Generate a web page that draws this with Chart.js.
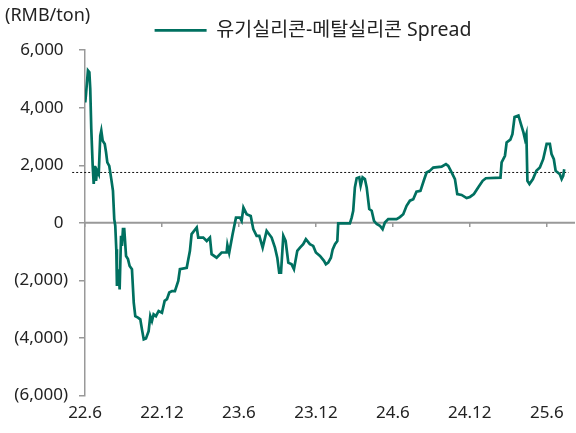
<!DOCTYPE html>
<html>
<head>
<meta charset="utf-8">
<script src="https://cdn.jsdelivr.net/npm/chart.js@4"></script>
<style>
  html, body { margin: 0; padding: 0; background: #fff; }
  #wrap { width: 576px; height: 433px; }
</style>
</head>
<body>
<div id="wrap"><canvas id="spreadChart"></canvas></div>
<script>
// months after 2022-06 (22.6 = 0)
months = [0.02, 0.08, 0.23, 0.34, 0.41, 0.49, 0.60, 0.68, 0.76, 0.86, 0.94, 1.07, 1.19, 1.27, 1.38, 1.54, 1.64, 1.74, 1.89, 2.05,
  2.18, 2.28, 2.36, 2.44, 2.49, 2.63, 2.70, 2.81, 2.88, 2.96, 3.06, 3.20, 3.35, 3.48, 3.66, 3.80, 3.92, 4.13, 4.31, 4.44,
  4.58, 4.75, 4.96, 5.09, 5.22, 5.35, 5.53, 5.74, 6.00, 6.21, 6.39, 6.57, 6.78, 7.01, 7.27, 7.40, 7.93, 8.18, 8.31, 8.71,
  8.83, 9.22, 9.49, 9.74, 9.87, 10.26, 10.65, 11.04, 11.10, 11.24, 11.51, 11.77, 12.08, 12.21, 12.35, 12.60, 12.92, 13.12, 13.38, 13.59,
  13.85, 14.16, 14.55, 14.81, 14.99, 15.14, 15.28, 15.46, 15.64, 15.85, 16.11, 16.29, 16.55, 16.76, 17.01, 17.22, 17.53, 17.79, 18.00, 18.32,
  18.63, 18.78, 18.96, 19.17, 19.31, 19.49, 19.67, 19.74, 20.65, 20.79, 20.91, 21.04, 21.18, 21.38, 21.49, 21.64, 21.82, 21.96, 22.16, 22.35,
  22.53, 22.74, 22.99, 23.20, 23.38, 23.64, 24.29, 24.55, 24.81, 25.07, 25.33, 25.59, 25.84, 26.15, 26.42, 26.63, 26.89, 27.15, 27.80, 28.14,
  28.32, 28.58, 28.84, 29.02, 29.36, 29.75, 30.01, 30.32, 30.65, 31.00, 31.25, 32.39, 32.48, 32.74, 32.87, 33.16, 33.32, 33.49, 33.79, 33.98,
  34.18, 34.30, 34.41, 34.49, 34.65, 34.92, 35.19, 35.46, 35.72, 35.99, 36.24, 36.37, 36.55, 36.69, 37.02, 37.16, 37.28, 37.36];

spread = [4180, 4480, 5290, 5230, 4650, 3260, 1980, 1350, 1980, 1460, 1810, 1690, 3030, 3200, 2850, 2740, 2450, 2100, 1980, 1520,
  1110, 130, -100, -920, -2190, -1610, -2310, -450, -800, -220, -220, -1150, -1260, -1500, -1610, -2770, -3240, -3290, -3350, -3700,
  -4050, -4020, -3760, -3240, -3410, -3180, -3240, -3060, -3120, -2710, -2650, -2420, -2370, -2370, -2020, -1610, -1560, -970, -390, -160,
  -510, -510, -630, -510, -1090, -1210, -1030, -1030, -770, -1040, -390, 180, 180, 70, 530, 300, 240, -220, -450, -450,
  -860, -280, -510, -860, -1210, -1730, -1730, -450, -630, -1380, -1440, -1610, -970, -860, -740, -570, -740, -800, -1030, -1150,
  -1320, -1440, -1380, -1210, -920, -740, -630, -20, -20, 180, 420, 1230, 1550, 1580, 1290, 1580, 1520, 1230, 480, 420,
  70, -40, -100, -220, 10, 130, 130, 200, 300, 590, 770, 820, 1080, 1110, 1480, 1750, 1810, 1920, 1950, 2040,
  1980, 1750, 1520, 1000, 970, 860, 900, 1000, 1230, 1460, 1550, 1570, 2100, 2330, 2790, 2890, 3080, 3680, 3730, 3440,
  3140, 2910, 3080, 1460, 1350, 1520, 1810, 1920, 2210, 2740, 2740, 2390, 2210, 1810, 1690, 1520, 1630, 1860];

avgLevel = 1750;
avgFrom = -1;
avgTo = 37.7;

tickMonths = [0, 6, 12, 18, 24, 30, 36];
tickLabels = ['22.6', '22.12', '23.6', '23.12', '24.6', '24.12', '25.6'];
xMax = 38.2;

seriesName = '유기실리콘-메탈실리콘 Spread';
lineColor = '#007060';
axisColor = '#999999';

Chart.defaults.font.family = "'Noto Sans', 'Noto Sans CJK KR', sans-serif";
Chart.defaults.font.size = 17;
Chart.defaults.color = '#222';

function setTicks(scale){
  scale.ticks = tickMonths.map(v => ({value: v}));
}

function fmt(v){
  if(v < 0){
    return '(' + Math.abs(v).toLocaleString('en-US') + ')';
  }
  return v.toLocaleString('en-US') + ' ';
}

const legendShift = {
  id: 'legendShift',
  afterLayout(chart){
    chart.legend.left += 23;
    chart.legend.right += 23;
  }
};

new Chart(document.getElementById('spreadChart'), {
  type: 'line',
  data: {
    datasets: [{
      label: seriesName,
      data: months.map((m, i) => ({x: m, y: spread[i]})),
      borderColor: lineColor,
      backgroundColor: lineColor,
      borderWidth: 2.7,
      pointRadius: 0,
      tension: 0,
      order: 0
    }, {
      label: 'avg',
      data: [{x: avgFrom, y: avgLevel}, {x: avgTo, y: avgLevel}],
      borderColor: '#111',
      borderWidth: 1,
      borderDash: [2, 2],
      pointRadius: 0,
      clip: false,
      order: 1
    }, {
      // zero axis line
      label: 'zero',
      data: [{x: 0, y: 0}, {x: xMax, y: 0}],
      borderColor: axisColor,
      borderWidth: 2,
      pointRadius: 0,
      order: 2
    }]
  },
  plugins: [legendShift],
  options: {
    responsive: true,
    maintainAspectRatio: false,
    animation: false,
    layout: {
      padding: {left: 5, right: 1, top: 0, bottom: 3}
    },
    plugins: {
      title: {
        display: true,
        text: '(RMB/ton)',
        align: 'start',
        padding: {top: 5, bottom: -9},
        font: {size: 18, weight: 'normal'}
      },
      legend: {
        position: 'top',
        labels: {
          usePointStyle: true,
          pointStyle: 'line',
          pointStyleWidth: 52,
          padding: 3,
          font: {size: 19.5},
          filter: item => item.datasetIndex === 0
        }
      },
      tooltip: {enabled: false}
    },
    scales: {
      x: {
        type: 'linear',
        min: 0,
        max: xMax,
        position: {y: 0},
        afterBuildTicks: setTicks,
        grid: {drawOnChartArea: false, drawTicks: true, tickLength: 4, color: axisColor, lineWidth: 1.5},
        border: {display: false},
        ticks: {display: false}
      },
      x2: {
        type: 'linear',
        axis: 'x',
        position: 'bottom',
        min: 0,
        max: xMax,
        afterBuildTicks: setTicks,
        grid: {display: false, drawTicks: false},
        border: {display: false},
        ticks: {
          padding: 7,
          maxRotation: 0,
          autoSkip: false,
          callback: v => tickLabels[tickMonths.indexOf(v)]
        }
      },
      y: {
        min: -6000,
        max: 6000,
        afterFit: scale => { scale.width = 80; },
        grid: {drawOnChartArea: false, color: axisColor, lineWidth: 1.5, tickLength: 6},
        border: {color: axisColor, width: 1.5},
        ticks: {stepSize: 2000, padding: 11, callback: fmt}
      }
    }
  }
});
</script>
</body>
</html>
